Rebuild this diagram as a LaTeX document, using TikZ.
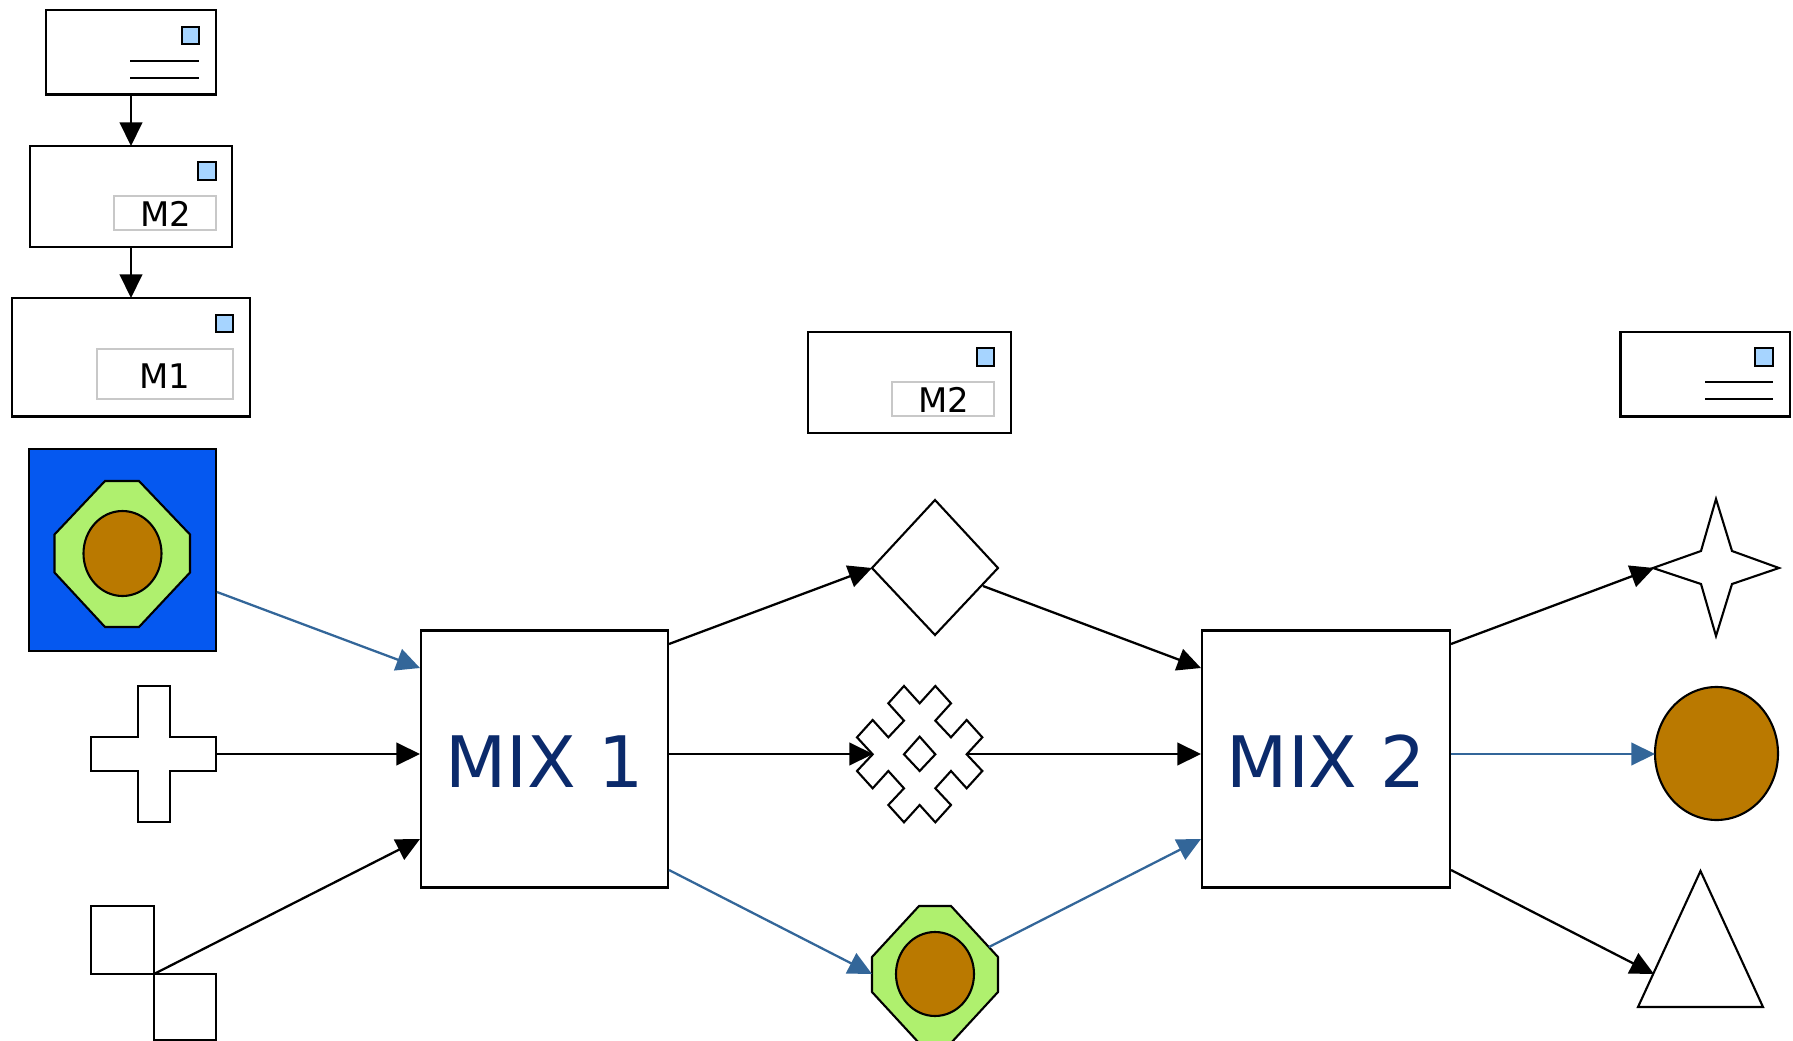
\documentclass[tikz,border=0pt]{standalone}
\usepackage{fontspec}
\setmainfont{DejaVu Sans}
\usetikzlibrary{arrows.meta,shapes.geometric}
\definecolor{stampblue}{HTML}{A6D4FF}
\definecolor{flowblue}{HTML}{336699}
\definecolor{deepblue}{HTML}{0558F0}
\definecolor{limefill}{HTML}{AFF06E}
\definecolor{brownfill}{HTML}{BA7900}
\definecolor{mixtext}{HTML}{0B2A6B}
\definecolor{labelgray}{HTML}{C8C8C8}
\newcommand{\pxbox}[7]{%
  \pgfmathsetmacro{\cxx}{(#2+#4)/2}\pgfmathsetmacro{\cyy}{(#3+#5)/2}%
  \node[#6,minimum width={(#4-#2)*0.02cm},minimum height={(#5-#3)*0.02cm}] (#1) at (\cxx,\cyy) {#7};}
\newcommand{\lowertext}[2]{\raisebox{-#1}[\height][\depth]{#2}}
\tikzset{
  outl/.style={draw=black,line width=1.2pt,line join=miter},
  rectnode/.style={outl,rectangle,fill=white,inner sep=0pt,outer sep=0pt},
  stampbox/.style={rectnode,fill=stampblue},
  labelbox/.style={rectangle,draw=labelgray,line width=1.2pt,fill=white,inner sep=0pt,outer sep=0pt,font=\fontsize{19.3}{19}\selectfont},
  mixbox/.style={rectnode,text=mixtext,font=\fontsize{40.4}{41}\selectfont},
  hitbox/.style={rectangle,inner sep=0pt,outer sep=0pt},
  ovalnode/.style={outl,ellipse,inner sep=0pt,outer sep=0pt,fill=brownfill},
  blackflow/.style={draw=black,line width=1.3pt,-{Triangle[length=13.4pt,width=12.8pt,fill=black]}},
  blueflow/.style={draw=flowblue,line width=1.3pt,-{Triangle[length=13.4pt,width=12.8pt,fill=flowblue]}},
}
\begin{document}
\begin{tikzpicture}[x=0.02cm,y=-0.02cm]
\useasboundingbox (0,0) rectangle (1793,1041);
% envelopes
\pxbox{envA}{46}{10}{216}{94.5}{rectnode}{}
\pxbox{stampA}{182}{27}{199}{44}{stampbox}{}
\draw[outl] (130,61) coordinate (lineAa) -- (199,61) coordinate (lineAb);
\draw[outl] (130,78) coordinate (lineAc) -- (199,78) coordinate (lineAd);
\pxbox{envB}{30}{146}{232}{247}{rectnode}{}
\pxbox{stampB}{198}{162}{216}{180}{stampbox}{}
\pxbox{labelB}{114}{196}{216}{230}{labelbox}{\lowertext{0.6pt}{\hspace{1.2pt}M2}}
\pxbox{envC}{12}{298}{250}{416.5}{rectnode}{}
\pxbox{stampC}{216}{315}{233}{332}{stampbox}{}
\pxbox{labelC}{97}{349}{233}{399}{labelbox}{\lowertext{1.3pt}{M1}}
\pxbox{envD}{808}{332}{1011}{433}{rectnode}{}
\pxbox{stampD}{977}{348}{994}{366}{stampbox}{}
\pxbox{labelD}{892}{382}{994}{416}{labelbox}{\lowertext{0.5pt}{\hspace{1.2pt}M2}}
\pxbox{envE}{1620.5}{332}{1790}{416.5}{rectnode}{}
\pxbox{stampE}{1755}{348}{1773}{366}{stampbox}{}
\draw[outl] (1705,382) coordinate (lineEa) -- (1773,382) coordinate (lineEb);
\draw[outl] (1705,399) coordinate (lineEc) -- (1773,399) coordinate (lineEd);
% blue square with octagon
\pxbox{bluesq}{29}{449}{216}{651}{rectnode,fill=deepblue,line width=1.5pt}{}
\draw[outl,fill=limefill] (105,481) -- (139,481) -- (190,534.5) -- (190,572.5) -- (139,627) -- (105,627) -- (54.5,572.5) -- (54.5,534.5) -- cycle;
\pxbox{ovalA}{83.5}{511}{161.5}{596}{ovalnode}{}
% cross
\pxbox{crossbox}{91}{686}{216}{822}{hitbox}{}
\draw[outl,fill=white] (138,686) -- (170,686) -- (170,737) -- (216,737) -- (216,771) -- (170,771) -- (170,822) -- (138,822) -- (138,771) -- (91,771) -- (91,737) -- (138,737) -- cycle;
% two squares
\pxbox{squareA}{91}{906}{154}{974}{rectnode}{}
\pxbox{squareB}{154}{974}{216}{1040}{rectnode}{}
% mix boxes
\pxbox{mixA}{421}{630.5}{668}{887.5}{mixbox}{\lowertext{1.3pt}{MIX 1}}
\pxbox{mixB}{1202}{630.5}{1450}{887.5}{mixbox}{\lowertext{1.3pt}{MIX 2}}
% diamond
\pxbox{diamondbox}{872}{500}{998}{635}{hitbox}{}
\draw[outl,fill=white] (935,500) -- (998,568) -- (935,635) -- (872,568) -- cycle;
% fractal
\begin{scope}[shift={(820,470)},x=0.00666667cm,y=-0.00666667cm]
\draw[outl,fill=white] (252,648) -- (299,700) -- (346,648) -- (393,700) -- (346,752) -- (393,802) -- (440,750) -- (487,802) -- (440,853) -- (487,903) -- (440,955) -- (393,903) -- (346,955) -- (393,1005) -- (346,1057) -- (299,1005) -- (252,1057) -- (205,1005) -- (252,955) -- (205,903) -- (158,955) -- (111,903) -- (158,853) -- (111,802) -- (158,750) -- (205,802) -- (252,752) -- (205,700) -- cycle;
\draw[outl] (299,800) -- (346,853) -- (299,903) -- (252,853) -- cycle;
\end{scope}
\pxbox{fractalbox}{857}{686}{982}{822}{hitbox}{}
% lower octagon
\draw[outl,fill=limefill] (919,906) -- (951,906) -- (998,957) -- (998,992) -- (951,1043) -- (919,1043) -- (872,992) -- (872,957) -- cycle;
\pxbox{ovalB}{896}{932}{974}{1016}{ovalnode}{}
% star
\pxbox{starbox}{1653}{499}{1779}{636}{hitbox}{}
\draw[outl,fill=white] (1716,499) -- (1732,551) -- (1779,568) -- (1732,584) -- (1716,636) -- (1701,584) -- (1653,568) -- (1701,551) -- cycle;
% circle
\pxbox{ovalC}{1655}{687}{1778}{820}{ovalnode}{}
% triangle
\pxbox{trianglebox}{1638}{871}{1763}{1007}{hitbox}{}
\draw[outl,fill=white] (1700.5,871) -- (1763,1007) -- (1638,1007) -- cycle;
% ports
\coordinate (bluesqOut) at (217,592);
\coordinate (crossOut) at (217,754);
\coordinate (squaresOut) at (154,974);
\coordinate (mixAinA) at (420,668);
\coordinate (mixAinB) at (420,754);
\coordinate (mixAinC) at (420,839);
\coordinate (mixAoutA) at (669,644);
\coordinate (mixAoutB) at (669,754);
\coordinate (mixAoutC) at (669,870);
\coordinate (diamondIn) at (872,568);
\coordinate (diamondOut) at (983,586);
\coordinate (fractalIn) at (873,754);
\coordinate (fractalOut) at (967,754);
\coordinate (ovalBIn) at (872,974);
\coordinate (ovalBOut) at (989,947);
\coordinate (mixBinA) at (1201,668);
\coordinate (mixBinB) at (1201,754);
\coordinate (mixBinC) at (1201,839);
\coordinate (mixBoutA) at (1451,644);
\coordinate (mixBoutB) at (1451,754);
\coordinate (mixBoutC) at (1451,870);
\coordinate (starIn) at (1654,568);
\coordinate (circleIn) at (1655,754);
\coordinate (triangleIn) at (1654,974);
% connectors
\draw[blackflow] (envA.south) -- (envB.north);
\draw[blackflow] (envB.south) -- (envC.north);
\draw[blueflow] (bluesqOut) -- (mixAinA);
\draw[blackflow] (crossOut) -- (mixAinB);
\draw[blackflow] (squaresOut) -- (mixAinC);
\draw[blackflow] (mixAoutA) -- (diamondIn);
\draw[blackflow] (mixAoutB) -- (fractalIn);
\draw[blueflow] (mixAoutC) -- (ovalBIn);
\draw[blackflow] (diamondOut) -- (mixBinA);
\draw[blackflow] (fractalOut) -- (mixBinB);
\draw[blueflow] (ovalBOut) -- (mixBinC);
\draw[blackflow] (mixBoutA) -- (starIn);
\draw[blueflow] (mixBoutB) -- (circleIn);
\draw[blackflow] (mixBoutC) -- (triangleIn);
\end{tikzpicture}
\end{document}
